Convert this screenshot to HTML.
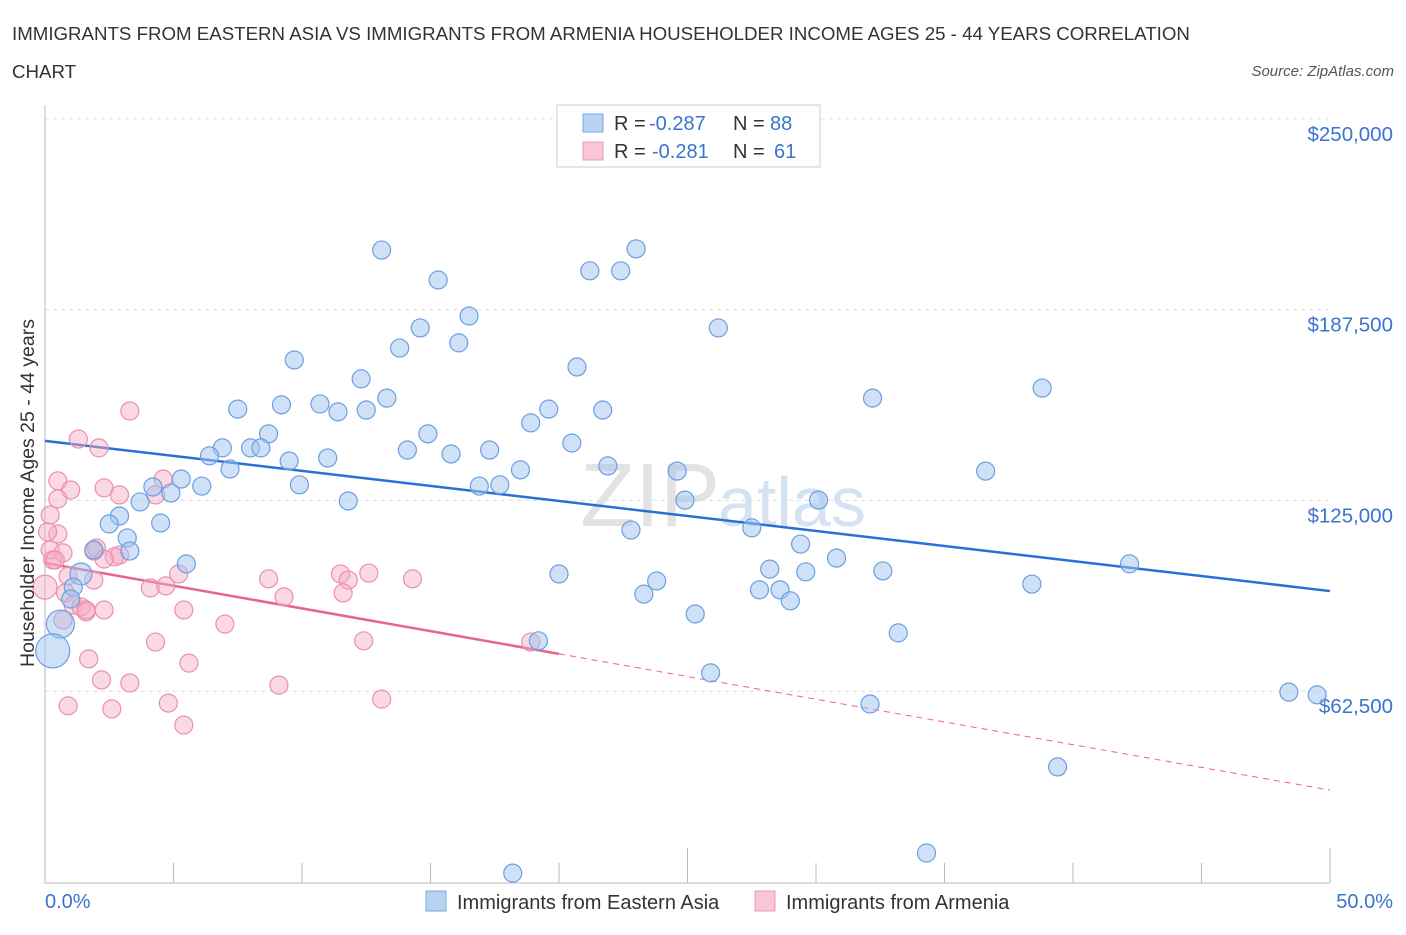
<!DOCTYPE html>
<html><head><meta charset="utf-8"><style>
body{margin:0;background:#fff;font-family:"Liberation Sans",sans-serif;}
svg text{font-family:"Liberation Sans",sans-serif;}
</style></head><body>
<svg id="chart" width="1406" height="930" xmlns="http://www.w3.org/2000/svg">
<text x="12" y="40" font-size="18.7" fill="#333">IMMIGRANTS FROM EASTERN ASIA VS IMMIGRANTS FROM ARMENIA HOUSEHOLDER INCOME AGES 25 - 44 YEARS CORRELATION</text>
<text x="12" y="78" font-size="18.7" fill="#333">CHART</text>
<text x="1394" y="76" font-size="15" fill="#555" font-style="italic" text-anchor="end">Source: ZipAtlas.com</text>
<text x="720" y="526" font-size="90" fill="#e3e3e3" text-anchor="end" font-family="Liberation Serif">ZIP</text>
<text x="718" y="526" font-size="70" fill="#d4e2f4">atlas</text>
<g id="grid"></g><g id="axes"></g><g id="lines"></g><g id="pts"></g>
<text transform="translate(34,493) rotate(-90)" font-size="19.5" fill="#333" text-anchor="middle">Householder Income Ages 25 - 44 years</text>
<g>
<rect x="557" y="105" width="263" height="62" fill="#fff" stroke="#ccc"/>
<rect x="583" y="114" width="20" height="18" fill="#b8d2f2" stroke="#7aa8e0"/>
<text x="614" y="130" font-size="20" fill="#333">R =</text>
<text x="649" y="130" font-size="20" fill="#3a74d0">-0.287</text>
<text x="733" y="130" font-size="20" fill="#333">N =</text>
<text x="770" y="130" font-size="20" fill="#3a74d0">88</text>
<rect x="583" y="142" width="20" height="18" fill="#f8c6d4" stroke="#ec98b2"/>
<text x="614" y="158" font-size="20" fill="#333">R =</text>
<text x="652" y="158" font-size="20" fill="#3a74d0">-0.281</text>
<text x="733" y="158" font-size="20" fill="#333">N =</text>
<text x="774" y="158" font-size="20" fill="#3a74d0">61</text>
</g>
<g>
<rect x="426" y="891" width="20" height="20" fill="#b8d2f2" stroke="#7aa8e0"/>
<text x="457" y="909" font-size="20" fill="#333">Immigrants from Eastern Asia</text>
<rect x="755" y="891" width="20" height="20" fill="#f8c6d4" stroke="#ec98b2"/>
<text x="786" y="909" font-size="20" fill="#333">Immigrants from Armenia</text>
</g>
</svg>
<script>
const yTicks=[62500,125000,187500,250000];
const yTickLabels=["$62,500","$125,000","$187,500","$250,000"];
const xTickLabels=["0.0%","50.0%"];
const blueX=[13.1,15.3,21.2,22.4,23.0,16.5,14.6,16.1,13.8,9.7,26.2,20.7,12.3,38.8,32.2,7.5,9.2,10.7,11.4,12.5,13.3,19.6,21.7,18.9,8.7,14.9,20.5,6.9,8.0,8.4,6.4,9.5,11.0,14.1,15.8,17.3,21.9,24.6,36.6,7.2,5.3,4.2,4.9,6.1,9.9,16.9,17.7,18.5,11.8,24.9,30.1,3.7,2.9,4.5,2.5,22.8,27.5,3.2,29.4,1.9,3.3,5.5,30.8,42.2,1.4,20.0,28.2,29.6,32.6,23.8,38.4,23.3,27.8,28.6,29.0,1.1,1.0,25.3,0.6,19.2,33.2,0.3,25.9,48.4,49.5,32.1,39.4,34.3,18.2];
const blueY=[207.0,197.2,200.2,200.2,207.4,185.4,181.5,176.6,174.9,171.0,181.5,168.7,164.8,161.8,158.5,154.9,156.3,156.6,154.0,154.6,158.5,154.9,154.6,150.4,146.8,146.8,143.8,142.2,142.2,142.2,139.6,137.9,138.9,141.5,140.2,141.5,136.3,134.6,134.6,135.3,132.0,129.4,127.4,129.7,130.1,129.7,130.1,135.0,124.8,125.1,125.1,124.5,119.9,117.6,117.3,115.3,116.0,112.7,110.7,108.8,108.4,104.2,106.1,104.2,100.9,100.9,102.5,101.6,101.9,98.6,97.6,94.3,95.7,95.7,92.1,96.6,92.7,87.8,84.5,79.0,81.6,75.7,68.5,62.2,61.3,58.3,37.7,9.5,2.9];
const pinkX=[3.3,1.3,2.1,4.6,0.5,1.0,2.3,2.9,4.3,0.5,0.2,0.5,0.2,0.7,1.9,2.9,0.3,2.7,2.0,0.9,2.3,5.2,8.7,11.5,11.8,12.6,14.3,4.1,4.7,0.8,1.1,1.4,1.6,2.3,5.4,9.3,11.6,0.7,7.0,4.3,12.4,18.9,1.7,5.6,2.2,3.3,9.1,13.1,0.9,2.6,4.8,5.4,0.0,1.9,1.6,0.4,0.1];
const pinkY=[154.3,145.1,142.2,132.0,131.4,128.4,129.1,126.8,126.8,125.5,120.2,114.0,108.8,107.8,108.4,107.1,105.5,106.5,109.4,100.2,105.8,100.9,99.3,100.9,98.9,101.2,99.3,96.3,97.0,94.7,90.7,90.1,88.5,89.1,89.1,93.4,94.7,85.8,84.5,78.6,79.0,78.6,73.1,71.7,66.2,65.2,64.5,59.9,57.7,56.7,58.6,51.4,96.6,98.9,89.1,105.5,114.7];
const blueTrend=[144.5,95.3];
const pinkTrend=[104.5,30.1];
const pinkSolidEnd=20;
const NS="http://www.w3.org/2000/svg";
const X=p=>45+p*25.7;
const Y=k=>882-k*1000/62500*190.8;
function mk(t,a,parent){const e=document.createElementNS(NS,t);for(const k in a)e.setAttribute(k,a[k]);document.getElementById(parent).appendChild(e);return e;}
yTicks.forEach((v,i)=>{
 const l=mk('line',{x1:45,x2:1330,y1:Y(v/1000),y2:Y(v/1000),stroke:'#ddd','stroke-dasharray':'4,4'},'grid');
 
 
 const t=mk('text',{x:1393,y:Y(v/1000)+22,'font-size':20.5,fill:'#3a74d0','text-anchor':'end'},'axes');
 t.textContent=yTickLabels[i];
 
 
});
mk('line',{x1:45,x2:1330,y1:883,y2:883,stroke:'#bbb'},'axes');
mk('line',{x1:45,x2:45,y1:105,y2:883,stroke:'#bbb'},'axes');
for(let i=0;i<=10;i++){const x=X(i*5);const tk=mk('line',{x1:x,x2:x,y1:883,y2:i%5==0?848:863,stroke:'#bbb'},'axes');
 
 }
[[0,'start',45],[50,'end',1393]].forEach((d,i)=>{const t=mk('text',{x:d[2],y:908,'font-size':20,fill:'#3a74d0','text-anchor':d[1]},'axes');t.textContent=xTickLabels[i];
 
 });
function ptsDraw(xs,ys,fill,stroke,name){xs.forEach((x,i)=>{let r=9;
 if(name==='blue-point'&&i===78)r=14;
 if(name==='blue-point'&&i===81)r=17;
 if(name==='blue-point'&&i===64)r=11;
 if(name==='pink-point'&&i===52)r=12;
 const c=mk('circle',{cx:X(x),cy:Y(ys[i]),r:r,fill:fill,stroke:stroke,'stroke-width':1.2},'pts');
 
 });}
ptsDraw(pinkX,pinkY,'rgba(245,170,195,0.45)','#ec8fae','pink-point');
ptsDraw(blueX,blueY,'rgba(160,196,240,0.5)','#6b9fe0','blue-point');
const bl=mk('line',{x1:X(0),y1:Y(blueTrend[0]),x2:X(50),y2:Y(blueTrend[1]),stroke:'#2a6fd6','stroke-width':2.5},'lines');


const pm=pinkTrend[0]+(pinkTrend[1]-pinkTrend[0])*pinkSolidEnd/50;
const pl=mk('line',{x1:X(0),y1:Y(pinkTrend[0]),x2:X(pinkSolidEnd),y2:Y(pm),stroke:'#e8638e','stroke-width':2.5},'lines');


const pd=mk('line',{x1:X(pinkSolidEnd),y1:Y(pm),x2:X(50),y2:Y(pinkTrend[1]),stroke:'#e8638e','stroke-width':1,'stroke-dasharray':'6,5'},'lines');


</script>
</body></html>
